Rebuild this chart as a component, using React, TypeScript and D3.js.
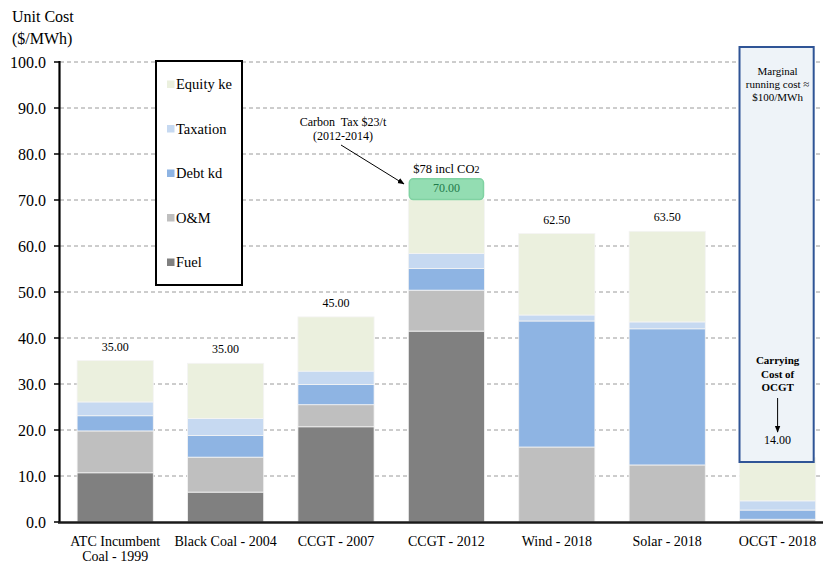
import React from "react";
import * as d3 from "d3";

const categories = [
  ["ATC Incumbent", "Coal - 1999"],
  ["Black Coal - 2004"],
  ["CCGT - 2007"],
  ["CCGT - 2012"],
  ["Wind - 2018"],
  ["Solar - 2018"],
  ["OCGT - 2018"],
];
const fuel = [10.7, 6.5, 20.7, 41.5, 0, 0, 0];
const om = [9.1, 7.6, 4.8, 8.9, 16.3, 12.4, 0.6];
const debt = [3.3, 4.7, 4.4, 4.7, 27.4, 29.6, 2.0];
const tax = [3.0, 3.7, 2.9, 3.3, 1.3, 1.5, 2.0];
const equity = [9.0, 12.0, 11.8, 11.7, 17.7, 19.7, 9.4];
const carbon = [0, 0, 0, 4.5, 0, 0, 0];
const totalLabels = ["35.00", "35.00", "45.00", "70.00", "62.50", "63.50", "14.00"];
const yTicks = [0, 10, 20, 30, 40, 50, 60, 70, 80, 90, 100];

const seriesNames = ["Fuel", "O&M", "Debt kd", "Taxation", "Equity ke"];
const seriesValues = [fuel, om, debt, tax, equity];
const colors = ["#808080", "#bfbfbf", "#8eb4e3", "#c6d9f1", "#ebf0de"];
const legendOrder = ["Equity ke", "Taxation", "Debt kd", "O&M", "Fuel"];

const W = 823;
const H = 563;
const FONT = "'Liberation Serif', 'Times New Roman', serif";

export default function App() {
  const x = d3
    .scaleBand<number>()
    .domain(d3.range(categories.length))
    .range([60, 60 + 7 * 110.4])
    .paddingInner(0.31)
    .paddingOuter(0.155);
  const y = d3.scaleLinear().domain([0, 100]).range([522, 62]);

  const rows = categories.map((_, i) => {
    const r: any = { i };
    seriesNames.forEach((s, k) => (r[s] = seriesValues[k][i]));
    return r;
  });
  const stack = d3.stack<any>().keys(seriesNames)(rows);
  const bw = x.bandwidth();

  const ocgt = 6;
  const boxX = x(ocgt)!;
  const cx6 = boxX + bw / 2;
  const c4 = 3;
  const carbonBase = d3.sum(seriesValues, (s) => s[c4]);

  return (
    <svg
      width={W}
      height={H}
      style={{ position: "absolute", left: 0, top: 0, background: "#fff" }}
      fontFamily={FONT}
    >
      <defs>
        <marker id="arr" viewBox="0 0 10 10" refX="9" refY="5" markerWidth="7" markerHeight="7" orient="auto-start-reverse">
          <path d="M0,1 L10,5 L0,9 z" fill="#000" />
        </marker>
      </defs>
      {/* grid */}
      {yTicks.slice(1).map((t) => (
        <line key={t} x1={60} x2={W} y1={y(t)} y2={y(t)} stroke="#9a9a9a" strokeDasharray="4,3" strokeWidth={1} />
      ))}
      {/* bars */}
      {stack.map((layer, k) => (
        <g key={k}>
          {layer.map((d, i) =>
            d[1] - d[0] > 0 ? (
              <rect
                key={i}
                x={x(i)}
                y={y(d[1])}
                width={bw}
                height={y(d[0]) - y(d[1])}
                fill={colors[k]}
                stroke="#f4f4f4"
                strokeWidth={0.8}
              />
            ) : null
          )}
        </g>
      ))}
      {/* carbon tax box */}
      {carbon.map((c, i) =>
        c > 0 ? (
          <rect
            key={i}
            x={x(i)! + 1}
            y={y(carbonBase + c)}
            width={bw - 2}
            height={y(carbonBase) - y(carbonBase + c)}
            rx={4}
            fill="#93ddb2"
            stroke="#80d2a2"
            strokeWidth={1.5}
          />
        ) : null
      )}
      {/* total labels */}
      {totalLabels.map((lab, i) => {
        const tot = d3.sum(seriesValues, (s) => s[i]);
        if (i === ocgt) return null;
        if (i === c4)
          return (
            <text key={i} x={x(i)! + bw / 2} y={y(carbonBase + carbon[i]) + 13} textAnchor="middle" fontSize={12} fill="#1f7a4a">
              {lab}
            </text>
          );
        return (
          <text key={i} x={x(i)! + bw / 2} y={y(tot) - 10} textAnchor="middle" fontSize={12} fill="#000">
            {lab}
          </text>
        );
      })}
      <text x={x(c4)! + bw / 2} y={y(carbonBase + carbon[c4]) - 6} textAnchor="middle" fontSize={12.5}>
        $78 incl CO<tspan fontSize={10}>2</tspan>
      </text>
      {/* carbon tax annotation */}
      <text x={343} y={126} textAnchor="middle" fontSize={12}>Carbon&#160; Tax $23/t</text>
      <text x={343} y={140} textAnchor="middle" fontSize={12}>(2012-2014)</text>
      <line x1={341} y1={145} x2={404} y2={184} stroke="#000" strokeWidth={1} markerEnd="url(#arr)" />
      {/* OCGT box */}
      <rect x={boxX} y={47} width={bw - 2} height={415} fill="#eef3f8" stroke="#2f5496" strokeWidth={2} />
      <g fontSize={11} textAnchor="middle">
        <text x={cx6} y={75}>Marginal</text>
        <text x={cx6} y={88}>running cost ≈</text>
        <text x={cx6} y={101}>$100/MWh</text>
      </g>
      <g fontSize={11} textAnchor="middle" fontWeight="bold">
        <text x={cx6} y={364}>Carrying</text>
        <text x={cx6} y={378}>Cost of</text>
        <text x={cx6} y={391}>OCGT</text>
      </g>
      <line x1={cx6} y1={398} x2={cx6} y2={432} stroke="#000" strokeWidth={1} markerEnd="url(#arr)" />
      <text x={cx6} y={444} textAnchor="middle" fontSize={12}>{totalLabels[ocgt]}</text>
      {/* legend */}
      <rect x={156} y={61} width={86} height={224} fill="#fff" stroke="#000" strokeWidth={2} />
      {legendOrder.map((name, j) => {
        const k = seriesNames.indexOf(name);
        const ly = 84.5 + j * 44.5;
        return (
          <g key={name}>
            <rect x={167} y={ly - 4} width={7.5} height={7.5} fill={colors[k]} />
            <text x={176} y={ly + 4.5} fontSize={14.5}>{name}</text>
          </g>
        );
      })}
      {/* y axis */}
      <line x1={59.5} x2={59.5} y1={y(100) - 1} y2={523} stroke="#000" strokeWidth={2.2} />
      {yTicks.map((t) => (
        <g key={t}>
          <line x1={54} x2={60} y1={y(t)} y2={y(t)} stroke="#000" strokeWidth={1.5} />
          <text x={46} y={y(t) + 5.5} textAnchor="end" fontSize={16}>{t.toFixed(1)}</text>
        </g>
      ))}
      <text x={12} y={22} fontSize={16}>Unit Cost</text>
      <text x={12} y={44} fontSize={16}>($/MWh)</text>
      {/* x axis */}
      <line x1={58} x2={W} y1={522.5} y2={522.5} stroke="#1a1a1a" strokeWidth={2.5} />
      {categories.map((lines, i) => (
        <text key={i} x={x(i)! + bw / 2} y={546} textAnchor="middle" fontSize={14}>
          {lines.map((l, j) => (
            <tspan key={j} x={x(i)! + bw / 2} dy={j === 0 ? 0 : 15}>{l}</tspan>
          ))}
        </text>
      ))}
    </svg>
  );
}
